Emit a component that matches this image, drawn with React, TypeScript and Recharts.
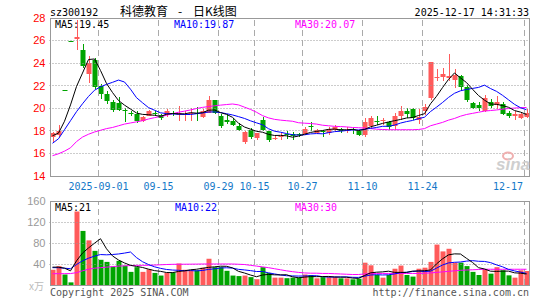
import { Bar, Cell, ComposedChart, Line, ReferenceLine, XAxis, YAxis } from "recharts";

// 80 trading days, 2025-08-20 .. 2025-12-17
const dates = [
  "08-20", "08-21", "08-22", "08-25", "08-26", "08-27", "08-28", "08-29",
  "09-01", "09-02", "09-03", "09-04", "09-05", "09-08", "09-09", "09-10", "09-11", "09-12",
  "09-15", "09-16", "09-17", "09-18", "09-19", "09-22", "09-23", "09-24", "09-25", "09-26",
  "09-29", "09-30",
  "10-09", "10-10", "10-13", "10-14", "10-15", "10-16", "10-17", "10-20", "10-21", "10-22",
  "10-23", "10-24", "10-27", "10-28", "10-29", "10-30", "10-31",
  "11-03", "11-04", "11-05", "11-06", "11-07", "11-10", "11-11", "11-12", "11-13", "11-14",
  "11-17", "11-18", "11-19", "11-20", "11-21", "11-24", "11-25", "11-26", "11-27", "11-28",
  "12-01", "12-02", "12-03", "12-04", "12-05", "12-08", "12-09", "12-10", "12-11", "12-12",
  "12-15", "12-16", "12-17",
];

const open = [
  17.45, 17.6, 21.62, 25.94, 26.1, 25.2, 23.05, 24.3, 22.0, 21.3,
  20.6, 20.45, 19.82, 19.62, 19.5, 18.9, 19.35, 19.6, 19.38, 19.42,
  19.62, 19.4, 19.45, 19.5, 19.62, 19.25, 19.6, 20.71, 19.3, 18.92,
  18.85, 18.47, 17.05, 18.05, 17.38, 18.95, 17.95, 17.3, 17.42, 17.7,
  17.72, 17.7, 17.75, 18.42, 17.85, 18.0, 17.85, 18.1, 18.2, 18.05,
  18.15, 18.0, 17.6, 18.4, 18.9, 18.85, 18.8, 18.4, 19.3, 19.72,
  19.95, 19.0, 19.72, 20.9, 22.65, 22.75, 22.7, 22.55, 22.85, 21.85,
  20.47, 20.33, 19.75, 20.6, 20.27, 20.4, 19.6, 19.35, 19.15, 19.2,
];
const close = [
  17.8, 18.0, 21.6, 25.92, 26.35, 23.75, 24.0, 21.85, 21.3, 20.62,
  19.82, 19.87, 19.78, 19.58, 18.85, 19.2, 19.72, 19.55, 19.1, 19.76,
  19.58, 19.58, 19.52, 19.6, 19.55, 19.8, 20.7, 19.59, 18.45, 18.78,
  18.5, 18.1, 17.88, 17.5, 17.8, 18.1, 17.15, 17.4, 17.55, 17.62,
  17.5, 17.65, 18.2, 18.35, 18.05, 17.92, 18.15, 18.35, 17.95, 18.12,
  18.1, 17.65, 18.78, 19.15, 18.82, 18.92, 18.3, 19.3, 19.72, 19.45,
  19.15, 19.2, 20.1, 24.1, 22.75, 23.0, 22.85, 22.95, 21.9, 20.7,
  20.05, 20.05, 20.9, 20.2, 20.55, 19.5, 19.3, 19.45, 19.5, 19.6,
];
const high = [
  17.9, 18.55, 21.62, 25.94, 27.8, 25.7, 24.6, 24.45, 22.15, 21.5,
  20.77, 21.0, 20.0, 19.8, 19.72, 19.35, 19.88, 19.75, 19.5, 19.9,
  19.8, 20.2, 19.75, 20.0, 20.1, 19.9, 21.05, 20.75, 19.45, 19.45,
  19.1, 18.7, 17.95, 18.25, 17.85, 19.2, 18.0, 17.6, 17.8, 17.95,
  17.9, 17.85, 18.35, 18.75, 18.2, 18.05, 18.35, 18.5, 18.25, 18.35,
  18.25, 18.1, 19.1, 19.3, 19.3, 19.1, 18.9, 19.6, 20.2, 20.0,
  20.05, 19.97, 20.35, 24.1, 23.45, 23.6, 24.8, 23.45, 22.95, 22.1,
  20.6, 20.6, 21.2, 20.8, 21.05, 20.55, 19.75, 19.75, 19.7, 19.95,
];
const low = [
  17.0, 17.45, 21.58, 25.9, 25.2, 23.6, 22.2, 21.7, 20.85, 20.35,
  19.65, 19.72, 18.76, 19.3, 18.7, 18.75, 19.3, 19.35, 19.0, 19.2,
  19.3, 18.85, 18.85, 18.9, 18.9, 19.15, 19.55, 19.5, 18.25, 18.6,
  18.4, 17.95, 16.85, 17.3, 17.2, 17.95, 17.0, 17.2, 17.2, 17.3,
  17.2, 17.45, 17.6, 17.95, 17.75, 17.45, 17.65, 17.95, 17.85, 17.8,
  17.7, 17.55, 17.5, 18.2, 18.5, 18.55, 18.1, 18.1, 19.0, 19.1,
  19.0, 18.6, 19.4, 20.75, 22.45, 22.4, 22.4, 21.8, 21.5, 20.55,
  19.9, 19.75, 19.7, 20.0, 19.9, 19.4, 19.15, 19.0, 19.05, 19.1,
];

const ma5 = [
  17.57, 17.8, 18.85, 20.3, 21.93, 23.12, 24.32, 24.37, 23.35, 22.2,
  21.4, 20.69, 20.28, 19.93, 19.58, 19.46, 19.43, 19.38, 19.28, 19.47,
  19.54, 19.51, 19.51, 19.61, 19.57, 19.61, 19.83, 19.85, 19.62, 19.46,
  19.2, 18.68, 18.34, 18.15, 17.96, 17.88, 17.69, 17.59, 17.6, 17.56,
  17.44, 17.54, 17.7, 17.86, 17.95, 18.03, 18.13, 18.16, 18.08, 18.1,
  18.13, 18.03, 18.12, 18.36, 18.5, 18.66, 18.79, 18.9, 19.01, 19.14,
  19.18, 19.36, 19.52, 20.4, 21.06, 21.83, 22.56, 23.13, 22.69, 22.28,
  21.69, 21.13, 20.72, 20.38, 20.35, 20.24, 20.09, 19.8, 19.66, 19.45,
];
const ma10 = [
  16.9, 17.3, 18.1, 18.9, 19.7, 20.4, 21.05, 21.6, 21.9, 22.12,
  22.3, 22.5, 22.33, 21.69, 20.94, 20.49, 20.06, 19.83, 19.6, 19.53,
  19.5, 19.47, 19.45, 19.45, 19.52, 19.58, 19.67, 19.68, 19.62, 19.52,
  19.41, 19.26, 19.1, 18.89, 18.71, 18.54, 18.19, 17.97, 17.88, 17.76,
  17.66, 17.62, 17.65, 17.73, 17.76, 17.74, 17.84, 17.93, 17.97, 18.03,
  18.08, 18.08, 18.14, 18.22, 18.3, 18.4, 18.41, 18.51, 18.69, 18.82,
  18.92, 19.08, 19.21, 19.71, 20.1, 20.51, 20.96, 21.33, 21.55, 21.67,
  21.76, 21.85, 22.05, 21.75, 21.5, 21.15, 20.75, 20.35, 20.05, 19.87,
];
const ma30 = [
  15.8, 15.97, 16.2, 16.5, 17.05, 17.45, 17.7, 17.9, 18.05, 18.2,
  18.3, 18.45, 18.6, 18.7, 18.8, 18.9, 19.05, 19.17, 19.27, 19.38,
  19.52, 19.65, 19.75, 19.85, 19.98, 20.08, 20.15, 20.22, 20.28, 20.33,
  20.38, 20.3, 20.1, 19.9, 19.65, 19.35, 19.15, 19.02, 18.95, 18.9,
  18.85, 18.72, 18.68, 18.65, 18.6, 18.5, 18.45, 18.4, 18.38, 18.35,
  18.3, 18.28, 18.25, 18.2, 18.15, 18.12, 18.1, 18.1, 18.1, 18.1,
  18.1, 18.12, 18.2, 18.45, 18.6, 18.75, 18.95, 19.1, 19.3, 19.45,
  19.55, 19.65, 19.75, 19.8, 19.85, 19.92, 19.98, 20.02, 20.05, 20.07,
];

// volume, 万股
const volume = [
  29, 36, 20, 5, 140, 103, 85, 65, 48, 44,
  35, 46, 37, 25, 34, 25, 30, 23, 18, 23,
  24, 41, 29, 28, 28, 33, 50, 34, 34, 27,
  18, 17, 18, 15, 11, 34, 23, 14, 14, 13,
  14, 14, 20, 19, 12.7, 15, 15, 15, 12.7, 12.7,
  10.8, 12, 42.5, 37.5, 19, 14, 19, 31, 37, 19,
  16, 31, 33, 44, 77, 64, 69, 42.5, 42.5, 36,
  25, 19, 30, 21.6, 34, 28, 18.4, 14, 28, 26.7,
];
const vma5 = [
  34, 34, 32, 27, 46, 60.8, 70.6, 79.6, 88.2, 69,
  55.4, 47.6, 42, 37.4, 35.4, 33.4, 30.2, 27.4, 26, 23.8,
  23.6, 25.8, 27, 29, 30, 31.8, 33.6, 34.6, 35.8, 35.6,
  32.6, 26, 22.8, 19, 15.8, 19, 20.2, 19.4, 19.2, 19.6,
  15.6, 13.8, 15, 16, 15.9, 16.1, 16.3, 15.3, 14.9, 14.9,
  13.2, 12.6, 18.1, 23.1, 24.4, 25, 26.3, 24, 24, 24,
  26.4, 26.8, 27.2, 28.6, 40.2, 49.8, 57.4, 59.3, 59, 50.8,
  43, 33, 30.5, 26.3, 25.9, 26.5, 26.4, 23.2, 22.5, 21,
];
const vma10 = [
  33, 33, 32, 31, 39, 46, 51, 55, 58, 57.5,
  58.1, 59.1, 60.8, 62.8, 52.2, 44.4, 38.9, 34.7, 31.7, 29.6,
  28.5, 28, 27.2, 27.5, 26.9, 27.7, 29.7, 30.8, 32.4, 32.8,
  32.2, 29.8, 28.7, 27.4, 25.7, 25.8, 23.1, 21.1, 19.1, 17.7,
  17.3, 17, 17.2, 17.6, 17.75, 15.85, 15.05, 15.15, 15.45, 15.4,
  14.65, 14.45, 16.7, 19, 19.65, 19.1, 19.45, 21.05, 23.55, 24.2,
  25.7, 26.55, 25.6, 26.3, 32.1, 38.1, 42.1, 43.25, 43.8, 45.5,
  46.4, 45.2, 44.9, 42.65, 38.35, 34.75, 29.7, 26.85, 24.5, 22,
];
const vma30 = [
  21.6, 21.6, 21.6, 21.8, 23.5, 27, 30, 32, 33, 34,
  35, 36, 36.5, 37, 37.5, 37.5, 37.5, 38, 38.5, 39,
  39.4, 39.5, 39.6, 39.7, 39.8, 40, 40, 40, 40, 40,
  40, 39.5, 39, 37.5, 36, 34.5, 33, 31, 29, 27,
  25.4, 24, 23, 22.5, 22.5, 22, 22, 21.5, 21, 20.5,
  20, 20, 21, 22, 22, 22, 22, 22, 22, 22,
  22, 22, 22.5, 23, 24, 25, 26, 27, 28, 28.5,
  29, 29.5, 30, 30, 30, 30, 30, 30, 30, 30,
];

const tickDates = ["09-01", "09-15", "09-29", "10-15", "10-27", "11-10", "11-24", "12-17"];
const tickText = ["2025-09-01", "09-15", "09-29", "10-15", "10-27", "11-10", "11-24", "12-17"];
const priceTicks = [14, 16, 18, 20, 22, 24, 26, 28];
const priceGrid = [16, 18, 20, 22, 24, 26];
const volTicks = [40, 80, 120, 160];
const volGrid = [40, 80, 120];

const RED = "#ff5a5a";
const GREEN = "#00a400";
const MONO = "'DejaVu Sans Mono', 'Liberation Mono', monospace";
const SANS = "'Liberation Sans', Arial, sans-serif";

const rows = dates.map((date, i) => ({
  date,
  open: open[i],
  high: high[i],
  low: low[i],
  close: close[i],
  range: [low[i], high[i]],
  ma5: ma5[i],
  ma10: ma10[i],
  ma30: ma30[i],
  vol: volume[i],
  vma5: vma5[i],
  vma10: vma10[i],
  vma30: vma30[i],
  up: close[i] >= open[i],
}));

// one candle from the [low, high] range bar
function Candle(props: any) {
  const { x, y, width, height, payload } = props;
  if (!payload || !Number.isFinite(y)) return null;
  const { open: o, close: c, high: h, low: l } = payload;
  const color = c >= o ? RED : GREEN;
  const ppu = height / (h - l);
  const t = Math.round(y + (h - Math.max(o, c)) * ppu);
  const b = Math.max(t + 1, Math.round(y + (h - Math.min(o, c)) * ppu));
  const wy = Math.round(y);
  const wb = Math.max(wy + 1, Math.round(y + height));
  const cx = Math.floor(x + width / 2);
  return (
    <g>
      <rect x={cx} y={wy} width={1} height={wb - wy} fill={color} />
      <rect x={x} y={t} width={width} height={b - t} fill={color} />
    </g>
  );
}

const hGrid = (p: any) => (
  <line
    x1={p.x1}
    x2={p.x2}
    y1={Math.floor(p.y1) + 0.5}
    y2={Math.floor(p.y2) + 0.5}
    stroke="#999"
    strokeDasharray="1 2"
  />
);

// Sina draws the date separators a couple of pixels left of the candle centre
const vGrid = (p: any) => (
  <line
    x1={Math.floor(p.x1) - 1.5}
    x2={Math.floor(p.x2) - 1.5}
    y1={p.y1}
    y2={p.y2}
    stroke="#aaa"
    strokeDasharray="6 4"
  />
);

function DateTick(props: any) {
  const { x, y, payload } = props;
  const idx = tickDates.indexOf(payload.value);
  // the last label is pulled back inside the frame
  const last = idx === tickDates.length - 1;
  return (
    <text
      x={last ? Math.floor(x) - 3 : Math.floor(x) - 1.5}
      y={y + 6}
      textAnchor={last ? "end" : "middle"}
      fill="#1478c8"
      fontSize={10}
      fontFamily={MONO}
    >
      {idx >= 0 ? tickText[idx] : payload.value}
    </text>
  );
}

const margin = { right: 15.5, left: 9.5 };

export default function App() {
  return (
    <div style={{ position: "absolute", left: 0, top: 0, width: 545, height: 300, background: "#fff" }}>
      <div style={{ position: "absolute", left: 0, top: 0 }}>
        <ComposedChart width={545} height={200} data={rows} margin={{ ...margin, top: 18, bottom: 0 }}>
          <XAxis
            dataKey="date"
            height={24}
            ticks={tickDates}
            interval={0}
            axisLine={false}
            tickLine={false}
            tick={(p: any) => <DateTick {...p} />}
          />
          <YAxis
            width={40}
            domain={[14, 28]}
            ticks={priceTicks}
            axisLine={false}
            tickLine={false}
            tickSize={0}
            tickMargin={4}
            tick={{ fill: "#f00", fontSize: 11, fontFamily: SANS }}
          />
          {priceGrid.map((v) => (
            <ReferenceLine key={v} y={v} shape={hGrid} />
          ))}
          {tickDates.map((d) => (
            <ReferenceLine key={d} x={d} shape={vGrid} />
          ))}
          <Bar dataKey="range" barSize={5} isAnimationActive={false} shape={(p: any) => <Candle {...p} />} />
          <Line type="linear" dataKey="ma30" stroke="#ff00ff" strokeWidth={1} dot={false} isAnimationActive={false} />
          <Line type="linear" dataKey="ma10" stroke="#0000ff" strokeWidth={1} dot={false} isAnimationActive={false} />
          <Line type="linear" dataKey="ma5" stroke="#000" strokeWidth={1} dot={false} isAnimationActive={false} />
        </ComposedChart>
      </div>

      <div style={{ position: "absolute", left: 0, top: 190 }}>
        <ComposedChart width={545} height={100} data={rows} margin={{ ...margin, top: 11, bottom: 5 }}>
          <XAxis dataKey="date" hide />
          <YAxis
            width={40}
            domain={[0, 160]}
            ticks={volTicks}
            axisLine={false}
            tickLine={false}
            tickSize={0}
            tickMargin={4}
            tick={{ fill: "#999", fontSize: 11, fontFamily: SANS }}
          />
          {volGrid.map((v) => (
            <ReferenceLine key={v} y={v} shape={hGrid} />
          ))}
          {tickDates.map((d) => (
            <ReferenceLine key={d} x={d} shape={vGrid} />
          ))}
          <Bar dataKey="vol" barSize={5} isAnimationActive={false}>
            {rows.map((r, i) => (
              <Cell key={i} fill={r.up ? RED : GREEN} />
            ))}
          </Bar>
          <Line type="linear" dataKey="vma30" stroke="#ff00ff" strokeWidth={1} dot={false} isAnimationActive={false} />
          <Line type="linear" dataKey="vma10" stroke="#0000ff" strokeWidth={1} dot={false} isAnimationActive={false} />
          <Line type="linear" dataKey="vma5" stroke="#000" strokeWidth={1} dot={false} isAnimationActive={false} />
        </ComposedChart>
      </div>

      <svg
        width={545}
        height={300}
        style={{ position: "absolute", left: 0, top: 0, pointerEvents: "none" }}
        fontFamily={MONO}
        fontSize={10}
      >
        {/* frames */}
        <rect x={50.5} y={18.5} width={479} height={158} fill="none" stroke="#999" />
        <rect x={50.5} y={201.5} width={479} height={84} fill="none" stroke="#999" />

        {/* header */}
        <text x={50} y={16} fill="#000">sz300192</text>
        <text x={120} y={16} fill="#000" fontSize={12} fontFamily="'Noto Sans CJK SC', sans-serif">科德教育</text>
        <text x={180} y={16} fill="#000" fontSize={12} textAnchor="middle" fontFamily="'Noto Sans CJK SC', sans-serif">-</text>
        <text x={193} y={16} fill="#000" fontSize={12} fontFamily="'Noto Sans CJK SC', sans-serif">日K线图</text>
        <text x={529} y={16} fill="#000" textAnchor="end">2025-12-17 14:31:33</text>

        {/* price MA legend */}
        <text x={55} y={28} fill="#000">MA5:19.45</text>
        <text x={174} y={28} fill="#0000ff">MA10:19.87</text>
        <text x={295} y={28} fill="#ff00ff">MA30:20.07</text>

        {/* volume MA legend */}
        <text x={55} y={211} fill="#000">MA5:21</text>
        <text x={175} y={211} fill="#0000ff">MA10:22</text>
        <text x={295} y={211} fill="#ff00ff">MA30:30</text>

        <text x={44} y={290} fill="#bbb" textAnchor="end" fontFamily="'Noto Sans CJK SC', sans-serif" fontSize={10}>x万</text>

        {/* sina mark */}
        <ellipse cx={508} cy={156} rx={5} ry={3.5} fill="none" stroke="#f0b0b0" strokeWidth={2} />
        <text x={513} y={170} fill="#cfcfcf" textAnchor="middle" fontSize={17} fontWeight="bold" fontStyle="italic" fontFamily={SANS}>sina</text>

        {/* footer */}
        <text x={50} y={296} fill="#555">Copyright 2025 SINA.COM</text>
        <text x={529} y={296} fill="#555" textAnchor="end">http://finance.sina.com.cn</text>
      </svg>
    </div>
  );
}
